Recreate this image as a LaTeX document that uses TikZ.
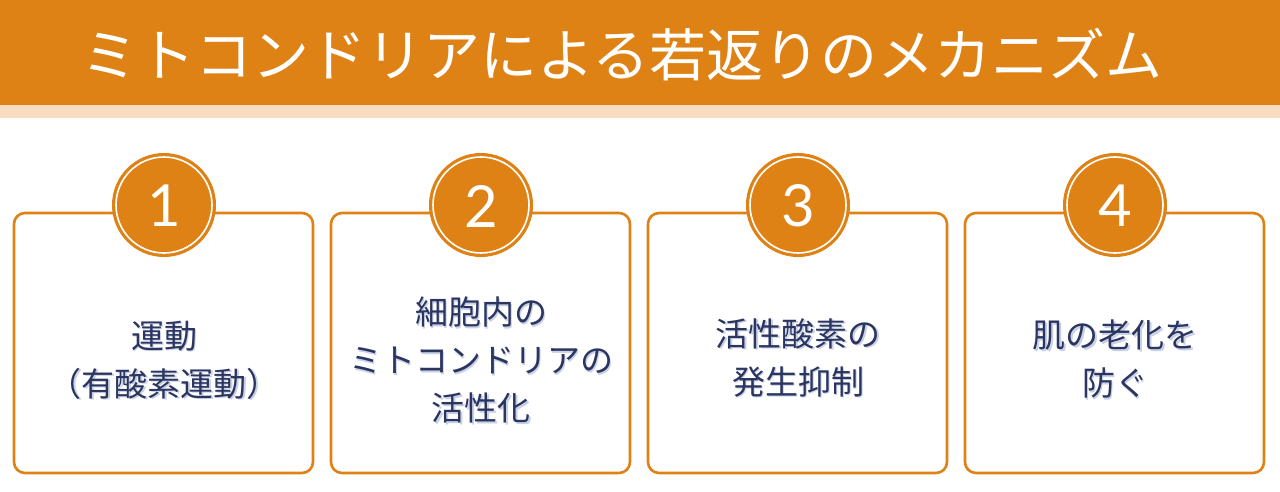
\documentclass[tikz,border=0pt]{standalone}
\usepackage{fontspec}
\setmainfont{Noto Sans CJK JP}
\newfontfamily\numfont{Lato}
\definecolor{org}{HTML}{DF8216}
\definecolor{peach}{HTML}{F8DCBF}
\definecolor{navy}{HTML}{2B3560}
\definecolor{shad}{HTML}{C9D1E6}
\begin{document}
\begin{tikzpicture}[x=1pt,y=-1pt,
  card/.style={draw=org,line width=2.6pt,rounded corners=11pt,fill=white},
  badge/.style={circle,fill=org,draw=org,line width=1pt,minimum size=103pt,inner sep=0pt},
  ring/.style={circle,draw=white,line width=1.6pt,minimum size=96pt,inner sep=0pt},
  numtxt/.style={text=white,font=\numfont\fontsize{58}{58}\selectfont},
  bodytxt/.style={align=center,text=navy,font=\fontsize{33}{48}\selectfont},
  shadtxt/.style={align=center,text=shad,font=\fontsize{33}{48}\selectfont},
  titletxt/.style={text=white,font=\fontsize{57}{60}\selectfont}]
\useasboundingbox (0,0) rectangle (1280,492);
\fill[white] (0,0) rectangle (1280,492);
\fill[org] (0,0) rectangle (1280,105);
\fill[peach] (0,105) rectangle (1280,118);
\node[titletxt] (title) at (622,55) {ミトコンドリアによる若返りのメカニズム};
% cards
\foreach \i/\xl in {1/14,2/331,3/648,4/965}{
  \draw[card] (\xl,213) rectangle ++(299,260);
}
\coordinate (c1) at (164,205);
\coordinate (c2) at (481,205);
\coordinate (c3) at (798,205);
\coordinate (c4) at (1115,205);
\foreach \i in {1,2,3,4}{
  \node[badge] (b\i) at (c\i) {};
  \node[ring] (r\i) at (c\i) {};
  \node[numtxt] (n\i) at ([yshift=-1pt]c\i) {\i};
}
% texts
\node[shadtxt] at (165.5,361.5) {運動\\（有酸素運動）};
\node[bodytxt] (t1) at (164,360) {運動\\（有酸素運動）};
\node[shadtxt] at (482.5,361.5) {細胞内の\\ミトコンドリアの\\活性化};
\node[bodytxt] (t2) at (481,360) {細胞内の\\ミトコンドリアの\\活性化};
\node[shadtxt] at (799.5,359.5) {活性酸素の\\発生抑制};
\node[bodytxt] (t3) at (798,358) {活性酸素の\\発生抑制};
\node[shadtxt] at (1116.5,360.5) {肌の老化を\\防ぐ};
\node[bodytxt] (t4) at (1115,359) {肌の老化を\\防ぐ};
\end{tikzpicture}
\end{document}
